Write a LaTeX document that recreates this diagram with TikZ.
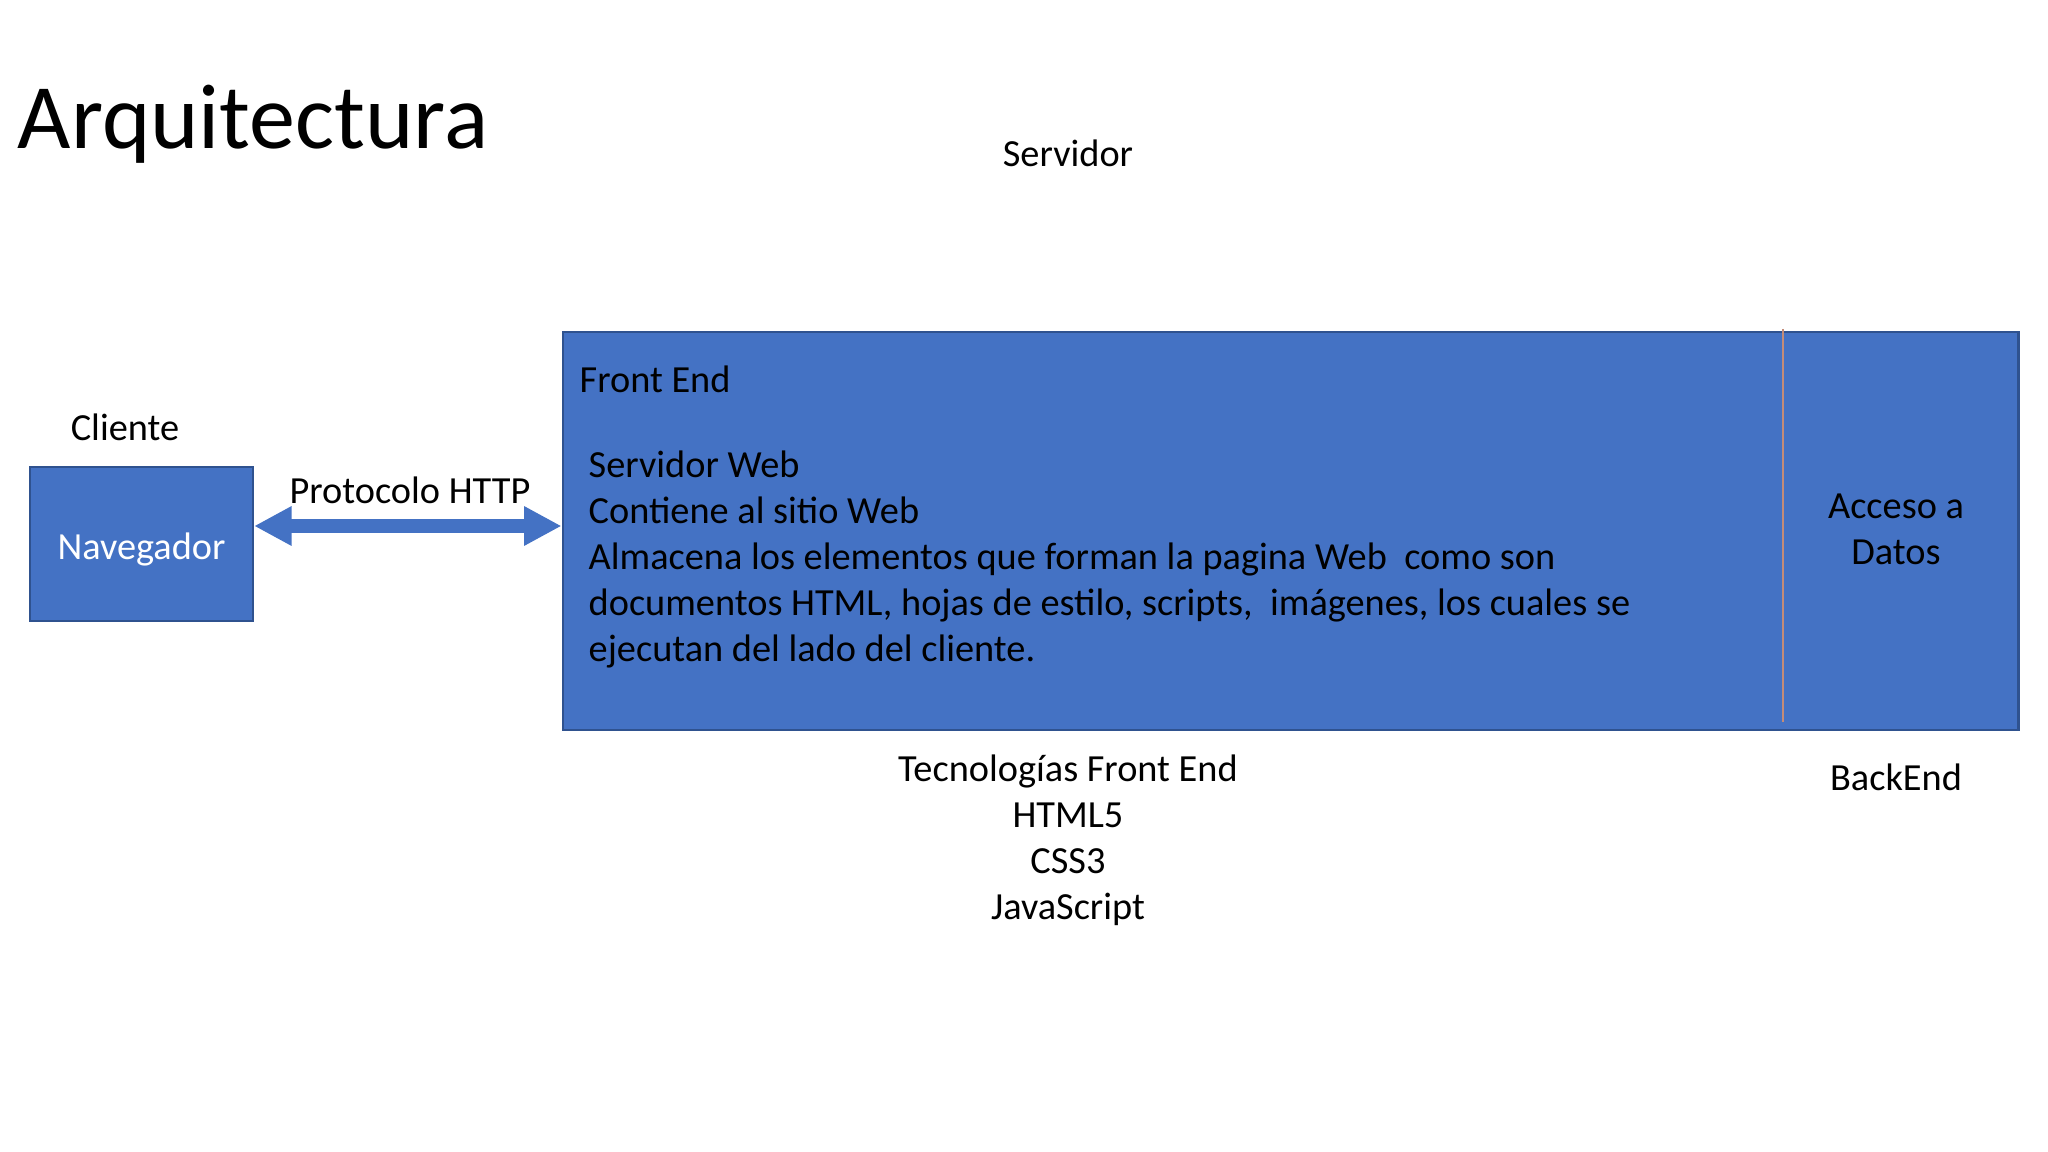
\documentclass[tikz,border=0pt]{standalone}
\usepackage{fontspec}
\setmainfont{Carlito}
\usetikzlibrary{arrows.meta}
\definecolor{boxblue}{HTML}{4472C4}
\definecolor{boxedge}{HTML}{2F528F}
\definecolor{divcol}{RGB}{196,140,120}
\tikzset{
  bluebox/.style={draw=boxedge, fill=boxblue, line width=0.6pt, inner sep=0pt},
  bodytext/.style={font=\fontsize{10.9}{13.1}\selectfont, inner sep=0pt},
  httparrow/.style={draw=boxblue, line width=0.13cm,
    {Triangle[length=0.375cm, width=0.37cm]}-{Triangle[length=0.375cm, width=0.37cm]}}
}
\begin{document}
\begin{tikzpicture}[x=0.01cm, y=-0.01cm]
		\useasboundingbox (0,0) rectangle (2048,1152);
		\node[anchor=base west, inner sep=0pt, font=\fontsize{26.2}{31}\selectfont] (title) at (17,149) {Arquitectura};
		\node[bodytext] (servidor) at (1068,153) {Servidor};
		
		% cliente
		\node[bodytext] (cliente) at (125,427) {Cliente};
		\node[bluebox, minimum width=2.23cm, minimum height=1.54cm, text=white, font=\fontsize{10.9}{13.1}\selectfont] (nav) at (141.5,544) {\raisebox{-0.05cm}[\height][\depth]{Navegador}};
		
		% servidor
		\node[bluebox, minimum width=14.55cm, minimum height=3.98cm] (front) at (1290.5,531) {};
		\draw[divcol, line width=0.5pt] (1783,329) -- (1783,722);
		\node[bodytext, anchor=base west] (fe) at (579,393) {Front End};
		\node[bodytext, anchor=base west] (l1) at (588,478) {Servidor Web};
		\node[bodytext, anchor=base west] (l2) at (588,524) {Contiene al sitio Web};
		\node[bodytext, anchor=base west] (l3) at (588,570) {Almacena los elementos que forman la pagina Web\ \ como son};
		\node[bodytext, anchor=base west] (l4) at (588,616) {documentos HTML, hojas de estilo, scripts,\ \ imágenes, los cuales se};
		\node[bodytext, anchor=base west] (l5) at (588,662) {ejecutan del lado del cliente.};
		\node[bodytext, align=center] (datos) at (1896,529) {Acceso a\\Datos};
		
		% protocolo
		\coordinate (httpy) at (0,526);
		\node[bodytext] (http) at (410,490) {Protocolo HTTP};
		\draw[httparrow] (nav.east |- httpy) -- (front.west |- httpy);
		
		% tecnologias
		\node[bodytext, align=center] (tec) at (1068,840) {Tecnologías Front End\\HTML5\\CSS3\\JavaScript};
		\node[bodytext] (back) at (1896,777) {BackEnd};
\end{tikzpicture}
\end{document}
